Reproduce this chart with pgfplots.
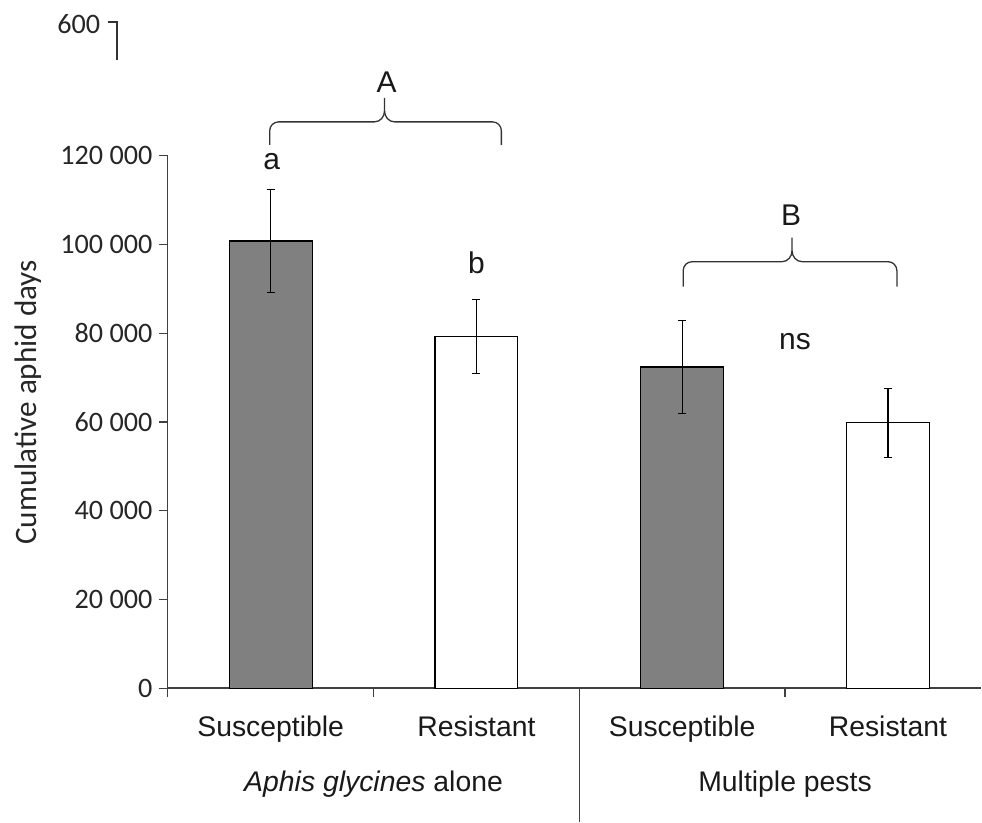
\documentclass[border=0pt]{standalone}
\usepackage{pgfplots}
\pgfplotsset{compat=1.18}
\usepackage{pgfplotstable}
\usepackage{fontspec}
\setmainfont{Liberation Sans}
\newfontfamily\calibri{Carlito}

% mean cumulative aphid days and standard errors
\pgfplotstableread{
x y err
0 100800 11600
2 72400 10400
}\susceptible
\pgfplotstableread{
x y err
1 79300 8400
3 59800 7800
}\resistant

\begin{document}
\begin{tikzpicture}
\path (0,0) rectangle (491pt,-412pt);
\begin{axis}[
  at={(84pt,-344.5pt)}, anchor=south west,
  scale only axis, width=407.25pt, height=266.5pt,
  xmin=-0.5, xmax=3.454, ymin=0, ymax=120000,
  axis x line*=bottom, axis y line*=left,
  axis line style={black!75, line width=0.7pt},
  ybar, bar width=41.5pt, bar shift=0pt,
  xtick={-0.5,0.5,2.5}, xticklabels={},
  ytick={0,20000,40000,60000,80000,100000,120000},
  yticklabels={0,20 000,40 000,60 000,80 000,100 000,120 000},
  scaled y ticks=false,
  tick align=outside, major tick length=4.2pt,
  tick style={black!75, line width=0.6pt},
  yticklabel style={font=\calibri\fontsize{14.1}{16}\selectfont, text=black!85},
  ylabel={Cumulative aphid days},
  every axis y label/.style={at={(axis description cs:-0.172,0.537)},
    rotate=90, anchor=center,
    font=\calibri\fontsize{15.6}{18}\selectfont, text=black!85},
  clip=false,
]
\addplot[fill=black!50, draw=black, line width=0.6pt,
  error bars/.cd, y dir=both, y explicit,
  error bar style={black, line width=0.6pt},
  error mark options={rotate=90, mark size=2pt, black, line width=0.6pt}]
  table[x=x, y=y, y error=err]{\susceptible};
\addplot[fill=white, draw=black, line width=0.6pt,
  error bars/.cd, y dir=both, y explicit,
  error bar style={black, line width=0.6pt},
  error mark options={rotate=90, mark size=2pt, black, line width=0.6pt}]
  table[x=x, y=y, y error=err]{\resistant};
% divider between the two treatment groups
\draw[black!75, line width=0.7pt] (axis cs:1.5,0) -- ++(0pt,-67pt);
% category and group labels
\begin{scope}[every node/.style={font=\fontsize{14.2}{17}\selectfont, text=black!90, anchor=base}]
\node at (axis cs:0,0) [yshift=-24pt] {Susceptible};
\node at (axis cs:1,0) [yshift=-24pt] {Resistant};
\node at (axis cs:2,0) [yshift=-24pt] {Susceptible};
\node at (axis cs:3,0) [yshift=-24pt] {Resistant};
\node at (axis cs:0.5,0) [yshift=-51.5pt] {\textit{Aphis glycines} alone};
\node at (axis cs:2.5,0) [yshift=-51.5pt] {Multiple pests};
\end{scope}
\end{axis}
% brackets and significance letters (1 unit = one pixel at 0.5pt)
\begin{scope}[x=0.5pt, y=-0.5pt, line width=0.65pt, black!80]
\draw (270,145) -- (270,131) to[out=90,in=180] (279,122) -- (375,122)
      to[out=0,in=-90] (385,111) -- (385,98);
\draw (385,111) to[out=-90,in=180] (395,122) -- (493,122)
      to[out=0,in=90] (502,131) -- (502,145);
\draw (684,287) -- (684,271) to[out=90,in=180] (693,262) -- (783,262)
      to[out=0,in=-90] (793,251) -- (793,238);
\draw (793,251) to[out=-90,in=180] (803,262) -- (889,262)
      to[out=0,in=90] (898,271) -- (898,287);
\begin{scope}[every node/.style={font=\fontsize{15}{18}\selectfont, text=black!90}]
\node at (387,82) {A};
\node at (792,215) {B};
\node at (272,162) {a};
\node at (477,263) {b};
\node at (796,342) {ns};
\end{scope}
% stub of the axis above
\node[anchor=east, font=\calibri\fontsize{14.1}{16}\selectfont, text=black!85, inner sep=0pt] at (101,24) {600};
\draw (108,22) -- (117,22) -- (117,60);
\end{scope}
\end{tikzpicture}
\end{document}
